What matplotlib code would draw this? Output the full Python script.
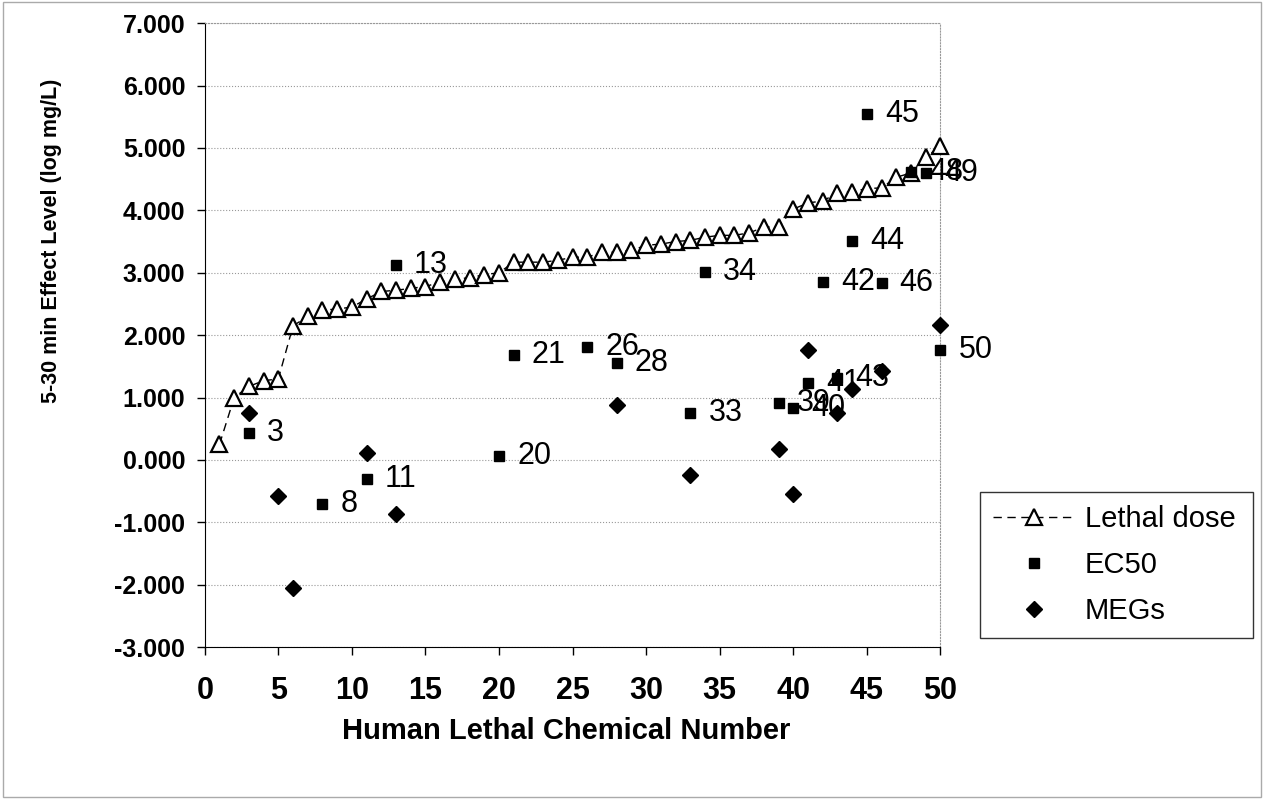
import matplotlib
matplotlib.use('Agg')
import matplotlib.pyplot as plt
from matplotlib.patches import Rectangle

# lethal dose for chemicals 1..50 (log mg/L)
chem_num = list(range(1, 51))
lethal_dose = [0.25, 1.00, 1.18, 1.27, 1.30, 2.15, 2.30, 2.40, 2.42, 2.45,
               2.58, 2.70, 2.72, 2.75, 2.78, 2.85, 2.90, 2.92, 2.97, 3.00,
               3.17, 3.17, 3.17, 3.20, 3.25, 3.25, 3.33, 3.33, 3.36, 3.44,
               3.46, 3.50, 3.52, 3.57, 3.60, 3.60, 3.64, 3.73, 3.74, 4.02,
               4.12, 4.15, 4.28, 4.30, 4.35, 4.36, 4.53, 4.60, 4.85, 5.03]

ec50_num = [3, 8, 11, 13, 20, 21, 26, 28, 33, 34, 39, 40, 41, 42, 43, 44, 45, 46, 48, 49, 50]
ec50_val = [0.44, -0.71, -0.30, 3.13, 0.06, 1.68, 1.81, 1.55, 0.75, 3.01, 0.92,
            0.83, 1.23, 2.85, 1.31, 3.51, 5.55, 2.83, 4.62, 4.60, 1.76]

meg_num = [3, 5, 6, 11, 13, 28, 33, 39, 40, 41, 43, 44, 46, 50]
meg_val = [0.75, -0.58, -2.05, 0.11, -0.87, 0.88, -0.24, 0.17, -0.55, 1.76,
           0.75, 1.13, 1.42, 2.16]

plt.rcParams['font.family'] = ['Liberation Sans', 'DejaVu Sans']

fig = plt.figure(figsize=(12.64, 7.99), dpi=100)
ax = fig.add_axes([0.162, 0.19, 0.582, 0.781])

ax.plot(chem_num, lethal_dose, linestyle=(0, (6, 4)), color='black', linewidth=1,
        marker='^', markersize=11, markerfacecolor='white', markeredgecolor='black',
        markeredgewidth=1.6, label='Lethal dose', zorder=3, clip_on=False)
ax.plot(ec50_num, ec50_val, linestyle='none', marker='s', markersize=7.5,
        color='black', label='EC50', zorder=4, clip_on=False)
ax.plot(meg_num, meg_val, linestyle='none', marker='D', markersize=8,
        color='black', label='MEGs', zorder=4, clip_on=False)

for n, v in zip(ec50_num, ec50_val):
    ax.annotate(str(n), (n, v), xytext=(13, 0), textcoords='offset points',
                ha='left', va='center', fontsize=22, zorder=5)

ax.set_xlim(0, 50)
ax.set_ylim(-3, 7)
ax.set_xticks(range(0, 51, 5))
ax.set_yticks(range(-3, 8))
ax.set_yticklabels([f'{v:.3f}' for v in range(-3, 8)])
ax.tick_params(axis='both', direction='out', length=6, width=1)
ax.tick_params(axis='x', pad=15, labelsize=22)
ax.tick_params(axis='y', pad=8, labelsize=18)
for lbl in ax.get_xticklabels() + ax.get_yticklabels():
    lbl.set_fontweight('bold')

ax.grid(axis='y', color='#999999', linestyle=':', linewidth=0.8)
for side in ['top', 'right']:
    ax.spines[side].set_linestyle(':')
    ax.spines[side].set_color('#999999')

fig.text(566 / 1264, 1 - 731 / 799, 'Human Lethal Chemical Number',
         ha='center', va='center', fontsize=21, fontweight='bold')
fig.text(52 / 1264, 1 - 241 / 799, '5-30 min Effect Level (log mg/L)',
         ha='center', va='center', rotation=90, fontsize=15.5, fontweight='bold')

leg = ax.legend(loc='lower left', bbox_to_anchor=(0.775, 0.2015, 0.216, 0.183),
                bbox_transform=fig.transFigure, mode='expand', fontsize=21,
                frameon=True, fancybox=False, handlelength=2.8, handletextpad=0.35,
                borderpad=0.45, labelspacing=0.62, borderaxespad=0)
leg.get_frame().set_edgecolor('black')
leg.get_frame().set_linewidth(1)

fig.patches.append(Rectangle((0.002, 0.002), 0.996, 0.996, transform=fig.transFigure,
                             fill=False, edgecolor='#aaaaaa', linewidth=1))

plt.savefig('out.png', dpi=100)
plt.close()
